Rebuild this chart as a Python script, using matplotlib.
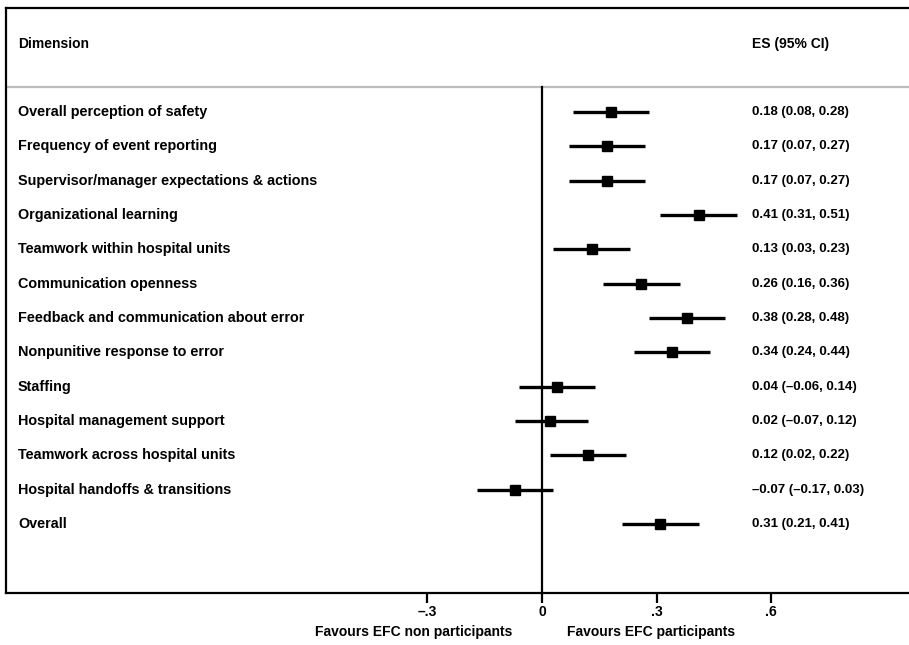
import matplotlib.pyplot as plt
from matplotlib import transforms

plt.rcParams['font.family'] = ['Liberation Sans', 'DejaVu Sans']

dimensions = [
    'Overall perception of safety',
    'Frequency of event reporting',
    'Supervisor/manager expectations & actions',
    'Organizational learning',
    'Teamwork within hospital units',
    'Communication openness',
    'Feedback and communication about error',
    'Nonpunitive response to error',
    'Staffing',
    'Hospital management support',
    'Teamwork across hospital units',
    'Hospital handoffs & transitions',
    'Overall',
]
es = [0.18, 0.17, 0.17, 0.41, 0.13, 0.26, 0.38, 0.34, 0.04, 0.02, 0.12, -0.07, 0.31]
lower = [0.08, 0.07, 0.07, 0.31, 0.03, 0.16, 0.28, 0.24, -0.06, -0.07, 0.02, -0.17, 0.21]
upper = [0.28, 0.27, 0.27, 0.51, 0.23, 0.36, 0.48, 0.44, 0.14, 0.12, 0.22, 0.03, 0.41]
tick_vals = [-0.3, 0, 0.3, 0.6]
tick_labels = ['\u2013.3', '0', '.3', '.6']

W, H = 909, 645
fig = plt.figure(figsize=(W / 100, H / 100), dpi=100)

# frame in pixels: left 6, right past the edge, top 8, bottom 593
x0_px, x1_px, top_px, bot_px = 6, 915, 8, 593
zero_px, unit_px = 542, 382
row0_px, row_step = 112, 34.33

ax = fig.add_axes([x0_px / W, 1 - bot_px / H, (x1_px - x0_px) / W, (bot_px - top_px) / H])
ax.set_xlim((x0_px - zero_px) / unit_px, (x1_px - zero_px) / unit_px)
ax.set_ylim((bot_px - row0_px) / row_step, (top_px - row0_px) / row_step)


def px_x(p):
    return (p - zero_px) / unit_px


def px_y(p):
    return (p - row0_px) / row_step


for s in ax.spines.values():
    s.set_linewidth(1.6)

sep_y = px_y(87)
ax.axhline(sep_y, color='#bdbdbd', lw=1.6)
ax.plot([0, 0], [sep_y, px_y(bot_px)], color='black', lw=1.6, clip_on=False)

hdr = dict(fontsize=10, fontweight='bold', va='center')
ax.text(px_x(18), px_y(44), 'Dimension', ha='left', **hdr)
ax.text(px_x(752), px_y(44), 'ES (95% CI)', ha='left', **hdr)

for i, name in enumerate(dimensions):
    ax.plot([lower[i], upper[i]], [i, i], color='black', lw=2.4, solid_capstyle='butt')
    ax.plot(es[i], i, marker='s', color='black', markersize=7.5)
    ax.text(px_x(18), i, name, ha='left', va='center', fontsize=10.4, fontweight='bold')
    ci = f'{es[i]:.2f} ({lower[i]:.2f}, {upper[i]:.2f})'.replace('-', '\u2013')
    ax.text(px_x(752), i, ci, ha='left', va='center', fontsize=9.5, fontweight='bold',
            clip_on=False)

ax.set_yticks([])
ax.set_xticks(tick_vals)
ax.set_xticklabels(tick_labels, fontsize=10, fontweight='bold')
ax.tick_params(axis='x', direction='out', length=7, width=1.6, pad=2)

blend = transforms.blended_transform_factory(ax.transData, fig.transFigure)
ax.text(px_x(512), 1 - 632 / H, 'Favours EFC non participants', ha='right', va='center',
        transform=blend, fontsize=10, fontweight='bold')
ax.text(px_x(567), 1 - 632 / H, 'Favours EFC participants', ha='left', va='center',
        transform=blend, fontsize=10, fontweight='bold')

fig.savefig('out.png', dpi=100)
